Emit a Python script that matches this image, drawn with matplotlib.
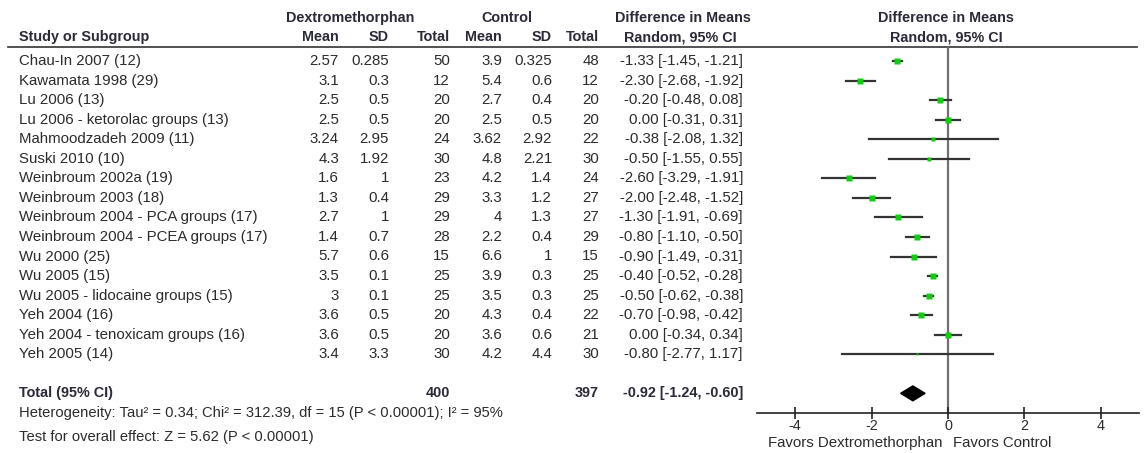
import numpy as np
import matplotlib.pyplot as plt

plt.rcParams['font.family'] = ['Liberation Sans', 'DejaVu Sans']
plt.rcParams['axes.unicode_minus'] = False

# ---------------
# Study data
# ---------------
studies = ["Chau-In 2007 (12)", "Kawamata 1998 (29)", "Lu 2006 (13)",
           "Lu 2006 - ketorolac groups (13)", "Mahmoodzadeh 2009 (11)",
           "Suski 2010 (10)", "Weinbroum 2002a (19)", "Weinbroum 2003 (18)",
           "Weinbroum 2004 - PCA groups (17)", "Weinbroum 2004 - PCEA groups (17)",
           "Wu 2000 (25)", "Wu 2005 (15)", "Wu 2005 - lidocaine groups (15)",
           "Yeh 2004 (16)", "Yeh 2004 - tenoxicam groups (16)", "Yeh 2005 (14)"]

dex_mean = [2.57, 3.1, 2.5, 2.5, 3.24, 4.3, 1.6, 1.3, 2.7, 1.4, 5.7, 3.5, 3, 3.6, 3.6, 3.4]
dex_sd = [0.285, 0.3, 0.5, 0.5, 2.95, 1.92, 1, 0.4, 1, 0.7, 0.6, 0.1, 0.1, 0.5, 0.5, 3.3]
dex_n = [50, 12, 20, 20, 24, 30, 23, 29, 29, 28, 15, 25, 25, 20, 20, 30]

ctl_mean = [3.9, 5.4, 2.7, 2.5, 3.62, 4.8, 4.2, 3.3, 4, 2.2, 6.6, 3.9, 3.5, 4.3, 3.6, 4.2]
ctl_sd = [0.325, 0.6, 0.4, 0.5, 2.92, 2.21, 1.4, 1.2, 1.3, 0.4, 1, 0.3, 0.3, 0.4, 0.6, 4.4]
ctl_n = [48, 12, 20, 20, 22, 30, 24, 27, 27, 29, 15, 25, 25, 22, 21, 30]

md = [-1.33, -2.30, -0.20, 0.00, -0.38, -0.50, -2.60, -2.00, -1.30, -0.80,
      -0.90, -0.40, -0.50, -0.70, 0.00, -0.80]
ci_lo = [-1.45, -2.68, -0.48, -0.31, -2.08, -1.55, -3.29, -2.48, -1.91, -1.10,
         -1.49, -0.52, -0.62, -0.98, -0.34, -2.77]
ci_hi = [-1.21, -1.92, 0.08, 0.31, 1.32, 0.55, -1.91, -1.52, -0.69, -0.50,
         -0.31, -0.28, -0.38, -0.42, 0.34, 1.17]

total_dex, total_ctl = 400, 397
pooled_md, pooled_lo, pooled_hi = -0.92, -1.24, -0.60
tau2 = 0.34

het_text = "Heterogeneity: Tau\u00b2 = 0.34; Chi\u00b2 = 312.39, df = 15 (P < 0.00001); I\u00b2 = 95%"
test_text = "Test for overall effect: Z = 5.62 (P < 0.00001)"

# ---------------
# Layout
# ---------------
W, H = 1145, 453
row_top = 61.0      # pixel y of first study row
pitch = 19.55       # pixel spacing between rows
total_row = 17

txt = "#2b2b2b"
hdr = "#2a2a38"
fs = 10.8
fs_bold = 10.4
fs_small = 10.6

fig = plt.figure(figsize=(W / 100, H / 100), dpi=100)

# table axes: x in pixels, y in row units
tab = fig.add_axes([0, 0, 1, 1])
tab.set_xlim(0, W)
tab.set_ylim((H - row_top) / pitch, -row_top / pitch)
tab.axis("off")

col_left = 19
cols_right = [339, 389, 450, 502, 552, 599]
ci_right = 743

def fmt(v):
    return f"{v:g}"

def row_y(px):
    return (px - row_top) / pitch

# headers
h1, h2 = row_y(18), row_y(37)
bold = dict(va="center", fontsize=fs_bold, fontweight="bold", color=hdr)
tab.text(350, h1, "Dextromethorphan", ha="center", **bold)
tab.text(507, h1, "Control", ha="center", **bold)
tab.text(683, h1, "Difference in Means", ha="center", **bold)
tab.text(946, h1, "Difference in Means", ha="center", **bold)
tab.text(col_left, h2, "Study or Subgroup", ha="left", **bold)
for x, lab in zip(cols_right, ["Mean", "SD", "Total", "Mean", "SD", "Total"]):
    tab.text(x, h2, lab, ha="right", **bold)
tab.text(680, h2, "Random, 95% CI", ha="center", **bold)
tab.text(946, h2, "Random, 95% CI", ha="center", **bold)

tab.plot([8, 1137], [row_y(47)] * 2, color="#333333", lw=1.2)

# study rows
norm = dict(va="center", fontsize=fs, color=txt)
for i, name in enumerate(studies):
    tab.text(col_left, i, name, ha="left", **norm)
    vals = [fmt(dex_mean[i]), fmt(dex_sd[i]), str(dex_n[i]),
            fmt(ctl_mean[i]), fmt(ctl_sd[i]), str(ctl_n[i])]
    for x, v in zip(cols_right, vals):
        tab.text(x, i, v, ha="right", **norm)
    tab.text(ci_right, i, f"{md[i]:.2f} [{ci_lo[i]:.2f}, {ci_hi[i]:.2f}]", ha="right", **norm)

# total row
tab.text(col_left, total_row, "Total (95% CI)", ha="left", **bold)
tab.text(cols_right[2], total_row, str(total_dex), ha="right", **bold)
tab.text(cols_right[5], total_row, str(total_ctl), ha="right", **bold)
tab.text(ci_right, total_row, f"{pooled_md:.2f} [{pooled_lo:.2f}, {pooled_hi:.2f}]", ha="right", **bold)
tab.text(col_left, row_y(413), het_text, ha="left", va="center", fontsize=fs_small, color=txt)
tab.text(col_left, row_y(437), test_text, ha="left", va="center", fontsize=fs_small, color=txt)

# ---------------
# Forest plot
# ---------------
x0, x1 = 757, 1139
y_axis, y_top = 413, 47
ax = fig.add_axes([x0 / W, 1 - y_axis / H, (x1 - x0) / W, (y_axis - y_top) / H])
ax.set_xlim(-5, 5)
ax.set_ylim(row_y(y_axis), row_y(y_top))
ax.patch.set_alpha(0)
for s in ["top", "right", "left"]:
    ax.spines[s].set_visible(False)
ax.spines["bottom"].set_color("#222222")
ax.spines["bottom"].set_linewidth(1.2)
ax.set_yticks([])
ax.set_xticks([-4, -2, 0, 2, 4])
ax.tick_params(axis="x", direction="inout", length=9, width=1.2, color="#222222",
               labelsize=10.4, labelcolor=txt, pad=0)

ax.axvline(0, color="#707070", lw=1.6, zorder=1)

# box size from random-effects weight
lo = np.array(ci_lo)
hi = np.array(ci_hi)
se = (hi - lo) / (2 * 1.96)
w = 1 / (se ** 2 + tau2)
ms = 2.5 * np.sqrt(w)

for i in range(len(studies)):
    ax.plot([ci_lo[i], ci_hi[i]], [i, i], color="#333333", lw=1.6, zorder=2)
    ax.plot(md[i], i, marker="s", ms=ms[i], color="#11cc11", mec="none", zorder=3)

ax.fill([pooled_lo, pooled_md, pooled_hi, pooled_md],
        [total_row, total_row - 0.38, total_row, total_row + 0.38],
        color="black", zorder=3)

ax.text(0.485, -0.083, "Favors Dextromethorphan", transform=ax.transAxes,
        ha="right", va="center", fontsize=fs, color=txt)
ax.text(0.514, -0.083, "Favors Control", transform=ax.transAxes,
        ha="left", va="center", fontsize=fs, color=txt)

fig.savefig("out.png", dpi=100)
